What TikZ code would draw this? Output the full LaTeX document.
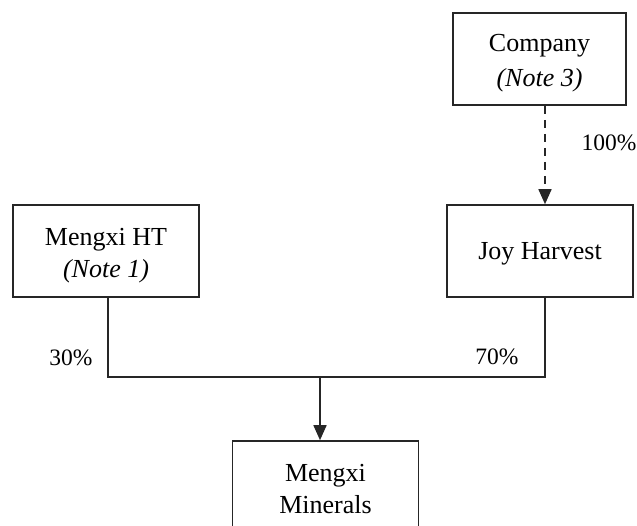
\documentclass[tikz,border=0pt]{standalone}
\usepackage{fontspec}
\setmainfont{Liberation Serif}
\usetikzlibrary{arrows.meta}
\begin{document}
\begin{tikzpicture}[x=1bp,y=-1bp,
  entity/.style={draw=black!85,line width=1.6bp,inner sep=0pt},
  etext/.style={align=center,inner sep=0pt,font=\fontsize{26bp}{32bp}\selectfont},
  pct/.style={font=\fontsize{23.5bp}{28bp}\selectfont,inner sep=0pt},
  link/.style={draw=black!85,line width=1.6bp},
  tip/.style={-{Triangle[length=15bp,width=13bp]}}]
\useasboundingbox (0,0) rectangle (637,526);
\node[entity,minimum width=173bp,minimum height=92bp] (comp) at (539.5,59) {};
\node[etext] (compt) at ([yshift=-4.5bp]comp.center) {Company\\[3bp]\textit{(Note 3)}};
\node[entity,minimum width=186bp,minimum height=92bp] (joy) at (540,251) {};
\node[etext] (joyt) at ([yshift=-3bp]joy.center) {Joy Harvest};
\node[entity,minimum width=186bp,minimum height=92bp] (ht) at (106,251) {};
\node[etext] (htt) at ([yshift=-4.5bp]ht.center) {Mengxi HT\\\textit{(Note 1)}};
\node[entity,minimum width=186bp,minimum height=93bp] (min) at (325.5,487.5) {};
\node[etext] (mint) at ([yshift=-1.5bp]min.center) {Mengxi\\Minerals};
\coordinate (hl) at (108,377);
\coordinate (jr) at (545,377);
\coordinate (j) at (320,377);
\draw[link,tip,dash pattern=on 8bp off 6bp] (comp.south -| jr) -- (joy.north -| jr);
\draw[link] (ht.south -| hl) -- (hl) -- (jr) -- (joy.south -| jr);
\draw[link,tip] (j) -- (min.north -| j);
\node[pct] (p100) at (609,143) {100\%};
\node[pct] (p30) at (71,358) {30\%};
\node[pct] (p70) at (497,357) {70\%};
\end{tikzpicture}
\end{document}
